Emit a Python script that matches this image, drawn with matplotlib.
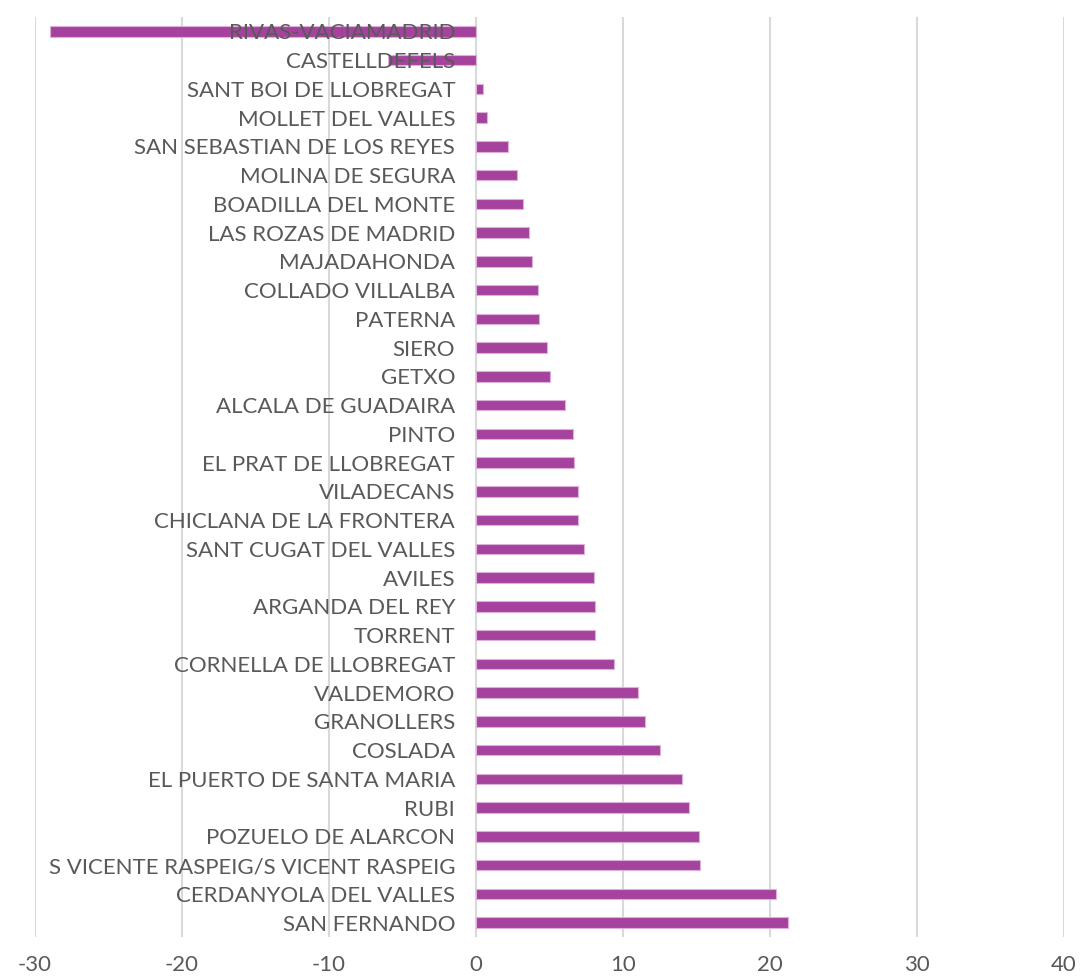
import matplotlib
matplotlib.use("Agg")
import matplotlib.pyplot as plt
from matplotlib.ticker import FixedLocator

cities = [
    "RIVAS-VACIAMADRID", "CASTELLDEFELS", "SANT BOI DE LLOBREGAT", "MOLLET DEL VALLES",
    "SAN SEBASTIAN DE LOS REYES", "MOLINA DE SEGURA", "BOADILLA DEL MONTE",
    "LAS ROZAS DE MADRID", "MAJADAHONDA", "COLLADO VILLALBA", "PATERNA", "SIERO",
    "GETXO", "ALCALA DE GUADAIRA", "PINTO", "EL PRAT DE LLOBREGAT", "VILADECANS",
    "CHICLANA DE LA FRONTERA", "SANT CUGAT DEL VALLES", "AVILES", "ARGANDA DEL REY",
    "TORRENT", "CORNELLA DE LLOBREGAT", "VALDEMORO", "GRANOLLERS", "COSLADA",
    "EL PUERTO DE SANTA MARIA", "RUBI", "POZUELO DE ALARCON",
    "S VICENTE RASPEIG/S VICENT RASPEIG", "CERDANYOLA DEL VALLES", "SAN FERNANDO",
]
values = [
    -29.0, -6.0, 0.47, 0.77, 2.18, 2.77, 3.17, 3.6, 3.79, 4.2, 4.31, 4.81, 5.03,
    6.03, 6.58, 6.69, 6.92, 6.92, 7.35, 8.0, 8.11, 8.11, 9.36, 11.02, 11.5, 12.5,
    14.0, 14.5, 15.18, 15.25, 20.4, 21.2,
]
xticks = [-30, -20, -10, 0, 10, 20, 30, 40]

plt.rcParams['font.family'] = ['Lato', 'DejaVu Sans']

fig = plt.figure(figsize=(10.83, 9.8), dpi=100)
ax = fig.add_axes([35 / 1083, 43 / 980, (1064 - 35) / 1083, (963 - 43) / 980])
ax.set_axisbelow(False)

# gridlines drawn below bars, tick labels (axis) drawn above bars
for t in xticks:
    ax.axvline(t, color="#d9d9d9", linewidth=1.5, zorder=0)

ypos = list(range(len(cities)))
ax.barh(ypos, values, height=0.36, color="#A5429E", edgecolor="#dcb0d8",
        linewidth=0.8, zorder=2)

ax.set_xlim(-30, 40)
ax.set_ylim(len(cities) - 0.5, -0.5)
ax.xaxis.set_major_locator(FixedLocator(xticks))
ax.set_xticklabels([str(t) for t in xticks])
ax.grid(False)

for s in ["top", "right", "bottom", "left"]:
    ax.spines[s].set_visible(False)
# y tick labels sit just left of the zero line
ax.spines["left"].set_position(("data", 0))

ax.set_yticks(ypos)
ax.set_yticklabels(cities)
ax.tick_params(axis="y", length=0, pad=15, labelsize=16, labelcolor="#595959")
ax.tick_params(axis="x", length=0, pad=13, labelsize=16, labelcolor="#595959")

fig.savefig("out.png", dpi=100)
